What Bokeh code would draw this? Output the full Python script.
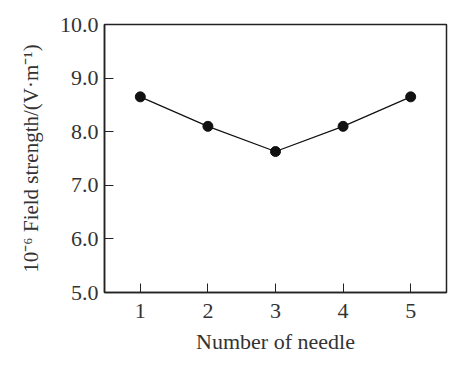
from bokeh.plotting import figure
from bokeh.models import FixedTicker, NumeralTickFormatter, Range1d
from bokeh.embed import file_html
from bokeh.resources import INLINE

needles = [1, 2, 3, 4, 5]
field = [8.65, 8.1, 7.63, 8.1, 8.65]
y_ticks = [5.0, 6.0, 7.0, 8.0, 9.0, 10.0]

p = figure(width=450, height=362, output_backend="svg", toolbar_location=None,
           x_range=Range1d(0.47, 5.53), y_range=Range1d(5.0, 10.0),
           min_border_left=104, min_border_right=4, min_border_top=24, min_border_bottom=70)
p.background_fill_color = "white"
p.border_fill_color = "white"
p.grid.visible = False
p.outline_line_color = "#222222"
p.outline_line_width = 1.5

p.line(needles, field, line_color="#111111", line_width=1.2)
p.scatter(needles, field, size=10, fill_color="#111111", line_color="#111111")

font = "Liberation Serif"
for ax in (p.xaxis[0], p.yaxis[0]):
    ax.axis_line_color = "#222222"
    ax.axis_line_width = 1.5
    ax.major_tick_in = 9
    ax.major_tick_out = 0
    ax.minor_tick_line_color = None
    ax.major_tick_line_color = "#222222"
    ax.major_label_text_font = font
    ax.major_label_text_font_size = "22px"
    ax.major_label_text_color = "#333333"
    ax.axis_label_text_font = font
    ax.axis_label_text_font_style = "normal"
    ax.axis_label_text_color = "#333333"

p.xaxis.axis_label_text_font_size = "22px"
p.yaxis.axis_label_text_font_size = "21px"
p.xaxis.ticker = FixedTicker(ticks=needles)
p.yaxis.ticker = FixedTicker(ticks=y_ticks)
p.yaxis.formatter = NumeralTickFormatter(format="0.0")
p.xaxis.axis_label = "Number of needle"
p.yaxis.axis_label = "10\u207b\u2076 Field strength/(V\u00b7m\u207b\u00b9)"
p.xaxis.major_label_standoff = 11
p.yaxis.major_label_standoff = 6
p.xaxis.axis_label_standoff = 8
p.yaxis.axis_label_standoff = 14

open("out.html", "w").write(file_html(p, INLINE))
